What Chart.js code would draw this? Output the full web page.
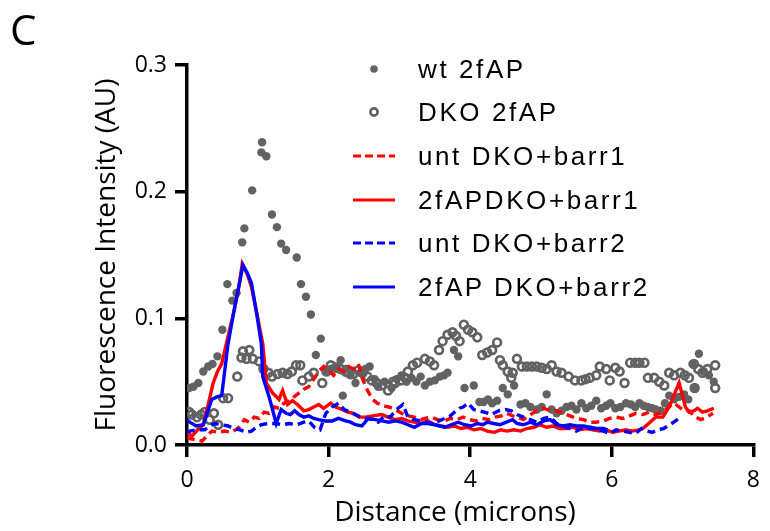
<!DOCTYPE html>
<html>
<head>
<meta charset="utf-8">
<script src="https://cdn.jsdelivr.net/npm/chart.js@4/dist/chart.umd.min.js"></script>
<style>
  html, body { margin: 0; padding: 0; background: #fff; }
  #wrap { position: relative; width: 770px; height: 531px; overflow: hidden; }
  #chart { position: absolute; left: 0; top: 0; }
  .panel { position: absolute; left: 10px; top: 8px; font: 42px/42px "Open Sans", sans-serif; color: #000; }
  .xtitle { position: absolute; left: 0; width: 910px; top: 494px; text-align: center;
            font: 28px/32px "Open Sans", sans-serif; color: #000; }
  .row { position: absolute; left: 352px; height: 30px; width: 400px; }
  .row svg { position: absolute; left: 0; top: 0; }
  .row span { position: absolute; left: 66px; top: 0; font: 26px/30px "Liberation Sans", Arial, sans-serif;
              letter-spacing: 2.6px; color: #000; white-space: nowrap; }
</style>
</head>
<body>
<div id="wrap">
  <canvas id="chart" width="770" height="531"></canvas>
  <div class="panel">C</div>
  <div class="xtitle">Distance (microns)</div>
  <div id="legend"></div>
</div>
<script>
// distance (microns) and intensity (AU), one pair of arrays per series
const wtX = [0.03, 0.09, 0.16, 0.23, 0.30, 0.36, 0.43, 0.50, 0.57, 0.64,
             0.70, 0.78, 0.81, 0.92, 1.05, 1.06, 1.12, 1.20, 1.27, 1.33,
             1.40, 1.55, 1.61, 1.68, 1.75, 1.82, 1.89, 1.96, 2.03, 2.10,
             2.17, 2.20, 2.24, 2.31, 2.38, 2.45, 2.52, 2.58, 2.65, 2.70,
             2.79, 2.89, 2.96, 3.03, 3.10, 3.17, 3.24, 3.30, 3.36, 3.43,
             3.50, 3.57, 3.63, 3.68, 3.77, 3.83, 3.92, 4.05, 4.13, 4.19,
             4.25, 4.31, 4.38, 4.46, 4.53, 4.62, 4.71, 4.78, 4.85, 4.94,
             5.01, 5.08, 5.15, 5.22, 5.29, 5.36, 5.43, 5.50, 5.57, 5.64,
             5.71, 5.78, 5.85, 5.92, 5.98, 6.05, 6.12, 6.20, 6.27, 6.33,
             6.39, 6.45, 6.51, 6.57, 6.62, 6.69, 6.75, 6.81, 6.88, 6.95,
             7.02, 7.08, 7.14, 7.17, 7.23, 7.30, 7.37, 7.44];
const wtY = [0.045, 0.046, 0.049, 0.058, 0.062, 0.064, 0.070, 0.091, 0.127, 0.114,
             0.120, 0.160, 0.171, 0.201, 0.231, 0.239, 0.228, 0.182, 0.172, 0.159,
             0.154, 0.148, 0.127, 0.117, 0.103, 0.071, 0.084, 0.058, 0.060, 0.062,
             0.067, 0.039, 0.060, 0.055, 0.049, 0.057, 0.060, 0.062, 0.052, 0.046,
             0.050, 0.045, 0.052, 0.055, 0.050, 0.053, 0.050, 0.054, 0.047, 0.050,
             0.051, 0.054, 0.055, 0.057, 0.075, 0.070, 0.045, 0.047, 0.034, 0.034,
             0.036, 0.033, 0.035, 0.045, 0.040, 0.047, 0.032, 0.033, 0.030, 0.028,
             0.030, 0.040, 0.028, 0.025, 0.027, 0.030, 0.031, 0.028, 0.033, 0.029,
             0.031, 0.035, 0.029, 0.031, 0.033, 0.029, 0.030, 0.033, 0.032, 0.030,
             0.033, 0.031, 0.030, 0.029, 0.028, 0.027, 0.033, 0.039, 0.036, 0.038,
             0.040, 0.036, 0.064, 0.045, 0.072, 0.058, 0.055, 0.050];

const dkoX = [0.03, 0.07, 0.14, 0.20, 0.25, 0.32, 0.38, 0.44, 0.51, 0.58,
              0.71, 0.77, 0.79, 0.84, 0.88, 0.93, 1.02, 1.08, 1.15, 1.20,
              1.28, 1.35, 1.42, 1.48, 1.54, 1.60, 1.63, 1.72, 1.79, 1.91,
              1.97, 2.03, 2.10, 2.17, 2.24, 2.28, 2.35, 2.42, 2.48, 2.55,
              2.61, 2.68, 2.75, 2.84, 2.91, 2.94, 3.02, 3.08, 3.12, 3.19,
              3.25, 3.36, 3.43, 3.49, 3.56, 3.61, 3.68, 3.75, 3.80, 3.85,
              3.91, 3.97, 4.03, 4.10, 4.17, 4.24, 4.31, 4.38, 4.42, 4.46,
              4.53, 4.58, 4.60, 4.66, 4.73, 4.80, 4.87, 4.94, 5.01, 5.08,
              5.15, 5.22, 5.29, 5.39, 5.48, 5.57, 5.63, 5.69, 5.78, 5.83,
              5.92, 5.97, 6.05, 6.11, 6.18, 6.26, 6.33, 6.39, 6.46, 6.51,
              6.60, 6.67, 6.74, 6.81, 6.88, 6.97, 7.03, 7.09, 7.16, 7.17,
              7.22, 7.28, 7.35, 7.46, 7.46];
const dkoY = [0.026, 0.024, 0.022, 0.024, 0.026, 0.020, 0.025, 0.016, 0.037, 0.037,
              0.054, 0.069, 0.074, 0.068, 0.075, 0.068, 0.066, 0.060, 0.057, 0.054,
              0.056, 0.057, 0.056, 0.058, 0.063, 0.063, 0.051, 0.054, 0.057, 0.049,
              0.058, 0.063, 0.061, 0.060, 0.058, 0.057, 0.056, 0.059, 0.057, 0.054,
              0.051, 0.049, 0.047, 0.043, 0.050, 0.049, 0.051, 0.053, 0.058, 0.063,
              0.065, 0.068, 0.066, 0.063, 0.075, 0.082, 0.087, 0.089, 0.086, 0.082,
              0.095, 0.091, 0.089, 0.085, 0.071, 0.073, 0.075, 0.081, 0.067, 0.063,
              0.058, 0.053, 0.057, 0.068, 0.062, 0.062, 0.062, 0.062, 0.061, 0.060,
              0.063, 0.058, 0.057, 0.054, 0.051, 0.051, 0.052, 0.053, 0.055, 0.062,
              0.060, 0.051, 0.061, 0.058, 0.049, 0.065, 0.065, 0.065, 0.065, 0.053,
              0.053, 0.050, 0.047, 0.057, 0.055, 0.057, 0.055, 0.053, 0.064, 0.045,
              0.060, 0.057, 0.060, 0.063, 0.045];

const untB1X = [0.00, 0.04, 0.21, 0.35, 0.44, 0.53, 0.62, 0.72, 0.81, 0.88,
                0.95, 1.02, 1.09, 1.16, 1.23, 1.30, 1.37, 1.44, 1.51, 1.58,
                1.65, 1.72, 1.79, 1.86, 1.93, 2.00, 2.07, 2.14, 2.21, 2.28,
                2.35, 2.42, 2.48, 2.55, 2.62, 2.69, 2.76, 2.85, 2.94, 3.03,
                3.12, 3.21, 3.30, 3.36, 3.45, 3.54, 3.63, 3.72, 3.81, 3.90,
                3.99, 4.08, 4.17, 4.26, 4.35, 4.44, 4.52, 4.60, 4.66, 4.75,
                4.85, 4.94, 5.04, 5.13, 5.22, 5.31, 5.41, 5.50, 5.60, 5.69,
                5.78, 5.88, 5.97, 6.06, 6.16, 6.25, 6.34, 6.44, 6.53, 6.62,
                6.72, 6.80, 6.88, 6.95, 7.02, 7.09, 7.18, 7.26, 7.34, 7.43];
const untB1Y = [0.006, 0.005, 0.003, 0.011, 0.010, 0.011, 0.010, 0.013, 0.020, 0.018,
                0.022, 0.021, 0.026, 0.025, 0.030, 0.029, 0.033, 0.035, 0.038, 0.041,
                0.044, 0.046, 0.052, 0.058, 0.062, 0.059, 0.055, 0.060, 0.058, 0.062,
                0.060, 0.064, 0.052, 0.043, 0.036, 0.033, 0.031, 0.030, 0.028, 0.025,
                0.023, 0.022, 0.020, 0.021, 0.022, 0.020, 0.019, 0.021, 0.020, 0.022,
                0.020, 0.019, 0.021, 0.020, 0.022, 0.023, 0.025, 0.023, 0.022, 0.020,
                0.024, 0.027, 0.029, 0.027, 0.027, 0.025, 0.023, 0.021, 0.020, 0.018,
                0.018, 0.019, 0.021, 0.022, 0.021, 0.023, 0.025, 0.024, 0.026, 0.024,
                0.026, 0.030, 0.033, 0.030, 0.027, 0.027, 0.022, 0.020, 0.022, 0.025];

const b1X = [0.00, 0.07, 0.15, 0.23, 0.30, 0.37, 0.43, 0.49, 0.58, 0.67,
             0.74, 0.78, 0.85, 0.91, 0.99, 1.07, 1.12, 1.21, 1.30, 1.35,
             1.42, 1.49, 1.58, 1.65, 1.72, 1.79, 1.86, 1.93, 2.03, 2.10,
             2.19, 2.27, 2.35, 2.43, 2.52, 2.62, 2.75, 2.84, 2.94, 3.03,
             3.12, 3.21, 3.31, 3.40, 3.50, 3.59, 3.68, 3.78, 3.87, 3.96,
             4.05, 4.15, 4.24, 4.34, 4.43, 4.52, 4.62, 4.71, 4.80, 4.90,
             4.98, 5.08, 5.17, 5.26, 5.36, 5.45, 5.54, 5.64, 5.73, 5.83,
             5.92, 6.01, 6.10, 6.20, 6.29, 6.38, 6.44, 6.54, 6.62, 6.72,
             6.81, 6.95, 7.04, 7.09, 7.16, 7.21, 7.28, 7.35, 7.44];
const b1Y = [0.010, 0.007, 0.012, 0.016, 0.032, 0.049, 0.058, 0.064, 0.086, 0.107,
             0.128, 0.143, 0.135, 0.125, 0.103, 0.080, 0.049, 0.041, 0.036, 0.043,
             0.032, 0.035, 0.031, 0.027, 0.028, 0.030, 0.032, 0.029, 0.033, 0.030,
             0.028, 0.026, 0.025, 0.022, 0.022, 0.023, 0.024, 0.022, 0.020, 0.021,
             0.019, 0.018, 0.017, 0.019, 0.016, 0.015, 0.014, 0.015, 0.013, 0.014,
             0.012, 0.013, 0.011, 0.010, 0.012, 0.011, 0.012, 0.011, 0.013, 0.014,
             0.016, 0.014, 0.015, 0.013, 0.013, 0.014, 0.012, 0.013, 0.012, 0.011,
             0.012, 0.010, 0.011, 0.012, 0.011, 0.012, 0.013, 0.018, 0.022, 0.022,
             0.030, 0.049, 0.030, 0.026, 0.027, 0.029, 0.026, 0.027, 0.029];

const untB2X = [0.00, 0.04, 0.15, 0.25, 0.32, 0.39, 0.49, 0.58, 0.66, 0.75,
                0.84, 0.91, 0.98, 1.05, 1.15, 1.25, 1.35, 1.44, 1.55, 1.65,
                1.72, 1.80, 1.88, 1.96, 2.05, 2.14, 2.22, 2.30, 2.38, 2.45,
                2.53, 2.62, 2.70, 2.79, 2.87, 2.96, 3.05, 3.12, 3.21, 3.30,
                3.39, 3.48, 3.56, 3.64, 3.72, 3.78, 3.85, 3.90, 3.97, 4.05,
                4.12, 4.20, 4.30, 4.40, 4.50, 4.58, 4.66, 4.75, 4.85, 4.94,
                5.04, 5.13, 5.22, 5.31, 5.41, 5.50, 5.60, 5.69, 5.78, 5.88,
                5.97, 6.06, 6.16, 6.25, 6.33, 6.42, 6.50, 6.57, 6.65, 6.73,
                6.82, 6.90, 6.95];
const untB2Y = [0.010, 0.011, 0.012, 0.012, 0.015, 0.017, 0.016, 0.015, 0.013, 0.012,
                0.010, 0.011, 0.014, 0.016, 0.017, 0.017, 0.016, 0.017, 0.016, 0.018,
                0.019, 0.014, 0.012, 0.025, 0.030, 0.033, 0.028, 0.026, 0.024, 0.022,
                0.021, 0.020, 0.018, 0.023, 0.022, 0.028, 0.032, 0.022, 0.020, 0.019,
                0.018, 0.017, 0.019, 0.021, 0.023, 0.026, 0.029, 0.030, 0.033, 0.028,
                0.027, 0.026, 0.024, 0.027, 0.028, 0.027, 0.024, 0.022, 0.020, 0.018,
                0.021, 0.022, 0.017, 0.015, 0.013, 0.011, 0.014, 0.013, 0.013, 0.011,
                0.009, 0.012, 0.011, 0.010, 0.009, 0.013, 0.011, 0.010, 0.012, 0.013,
                0.016, 0.019, 0.021];

const b2X = [0.00, 0.04, 0.13, 0.23, 0.29, 0.35, 0.42, 0.49, 0.58, 0.67,
             0.75, 0.79, 0.85, 0.91, 0.98, 1.05, 1.07, 1.16, 1.26, 1.33,
             1.40, 1.46, 1.52, 1.58, 1.65, 1.72, 1.79, 1.86, 1.95, 2.05,
             2.14, 2.24, 2.31, 2.38, 2.47, 2.56, 2.66, 2.75, 2.85, 2.94,
             3.03, 3.12, 3.21, 3.31, 3.40, 3.50, 3.57, 3.64, 3.73, 3.83,
             3.92, 4.01, 4.10, 4.18, 4.24, 4.33, 4.42, 4.51, 4.60, 4.66,
             4.75, 4.85, 4.94, 5.04, 5.13, 5.22, 5.31, 5.41, 5.50, 5.60,
             5.69, 5.78, 5.88, 5.94];
const b2Y = [0.020, 0.018, 0.015, 0.016, 0.026, 0.036, 0.038, 0.039, 0.080, 0.108,
             0.130, 0.142, 0.136, 0.128, 0.105, 0.080, 0.054, 0.038, 0.017, 0.028,
             0.025, 0.024, 0.027, 0.024, 0.022, 0.023, 0.021, 0.020, 0.019, 0.019,
             0.021, 0.019, 0.018, 0.016, 0.015, 0.021, 0.020, 0.019, 0.018, 0.019,
             0.018, 0.016, 0.014, 0.017, 0.017, 0.016, 0.015, 0.014, 0.016, 0.018,
             0.016, 0.015, 0.017, 0.016, 0.018, 0.017, 0.016, 0.018, 0.020, 0.017,
             0.016, 0.018, 0.016, 0.019, 0.020, 0.016, 0.015, 0.016, 0.015, 0.015,
             0.014, 0.013, 0.013, 0.012];

const xTicks = [0, 2, 4, 6, 8];
const yTicks = [0, 0.1, 0.2, 0.3];

const GREY = '#626262';
const RED = '#ff0000';
const BLUE = '#0000ff';

const pts = (xs, ys) => xs.map((x, i) => ({ x: x, y: ys[i] }));

const lineSet = (label, xs, ys, color, dashed, order) => ({
    label: label,
    data: pts(xs, ys),
    showLine: true,
    borderColor: color,
    backgroundColor: color,
    borderWidth: 3.4,
    borderDash: dashed ? [8, 5] : [],
    pointRadius: 0,
    tension: 0,
    order: order
});

const datasets = [
    { label: 'wt 2fAP', data: pts(wtX, wtY), pointRadius: 4.2, borderWidth: 0,
      backgroundColor: GREY, borderColor: GREY, order: 6 },
    { label: 'DKO 2fAP', data: pts(dkoX, dkoY), pointRadius: 3.9, borderWidth: 2.7,
      backgroundColor: 'rgba(0,0,0,0)', borderColor: GREY, order: 5 },
    lineSet('unt DKO+barr1', untB1X, untB1Y, RED, true, 4),
    lineSet('2fAPDKO+barr1', b1X, b1Y, RED, false, 3),
    lineSet('unt DKO+barr2', untB2X, untB2Y, BLUE, true, 2),
    lineSet('2fAP DKO+barr2', b2X, b2Y, BLUE, false, 1)
];

const tickFont = { family: 'Open Sans', size: 23 };
const titleFont = { family: 'Open Sans', size: 28 };

new Chart(document.getElementById('chart'), {
    type: 'scatter',
    data: { datasets: datasets },
    options: {
        responsive: false,
        animation: false,
        layout: { padding: { top: 65, right: 12, left: 0, bottom: 0 } },
        plugins: { legend: { display: false }, tooltip: { enabled: false } },
        scales: {
            x: {
                type: 'linear', min: 0, max: 8,
                afterBuildTicks: s => { s.ticks = xTicks.map(v => ({ value: v })); },
                afterFit: s => { s.height = 86; },
                ticks: { color: '#000', font: tickFont, padding: 10, maxRotation: 0 },
                grid: { drawOnChartArea: false, color: '#000', lineWidth: 3.5, tickLength: 12 },
                border: { color: '#000', width: 3.5 }
            },
            y: {
                type: 'linear', min: 0, max: 0.3,
                afterBuildTicks: s => { s.ticks = yTicks.map(v => ({ value: v })); },
                afterFit: s => { s.width = 187; },
                ticks: { color: '#000', font: tickFont, padding: 8, callback: v => v.toFixed(1) },
                grid: { drawOnChartArea: false, color: '#000', lineWidth: 3.5, tickLength: 12 },
                border: { color: '#000', width: 3.5 },
                title: { display: true, text: 'Fluorescence Intensity (AU)', color: '#000',
                         font: titleFont, padding: { top: 90, bottom: 0 } }
            }
        }
    }
});

// legend sits inside the plot, to the right of the peak
const legendRows = [
    { label: 'wt 2fAP', kind: 'dot', color: GREY },
    { label: 'DKO 2fAP', kind: 'ring', color: GREY },
    { label: 'unt DKO+barr1', kind: 'dash', color: RED },
    { label: '2fAPDKO+barr1', kind: 'line', color: RED },
    { label: 'unt DKO+barr2', kind: 'dash', color: BLUE },
    { label: '2fAP DKO+barr2', kind: 'line', color: BLUE }
];
const legend = document.getElementById('legend');
legendRows.forEach((r, i) => {
    const row = document.createElement('div');
    row.className = 'row';
    row.style.top = (53.6 + i * 43.7) + 'px';
    let icon;
    if (r.kind === 'dot') icon = `<circle cx="22" cy="15" r="3.8" fill="${r.color}"/>`;
    else if (r.kind === 'ring') icon = `<circle cx="22" cy="15" r="3.6" fill="none" stroke="${r.color}" stroke-width="2.6"/>`;
    else icon = `<line x1="1" y1="15" x2="43" y2="15" stroke="${r.color}" stroke-width="3.2"` +
                (r.kind === 'dash' ? ' stroke-dasharray="8,4"' : '') + '/>';
    row.innerHTML = `<svg width="44" height="30">${icon}</svg><span>${r.label}</span>`;
    legend.appendChild(row);
});
</script>
</body>
</html>
